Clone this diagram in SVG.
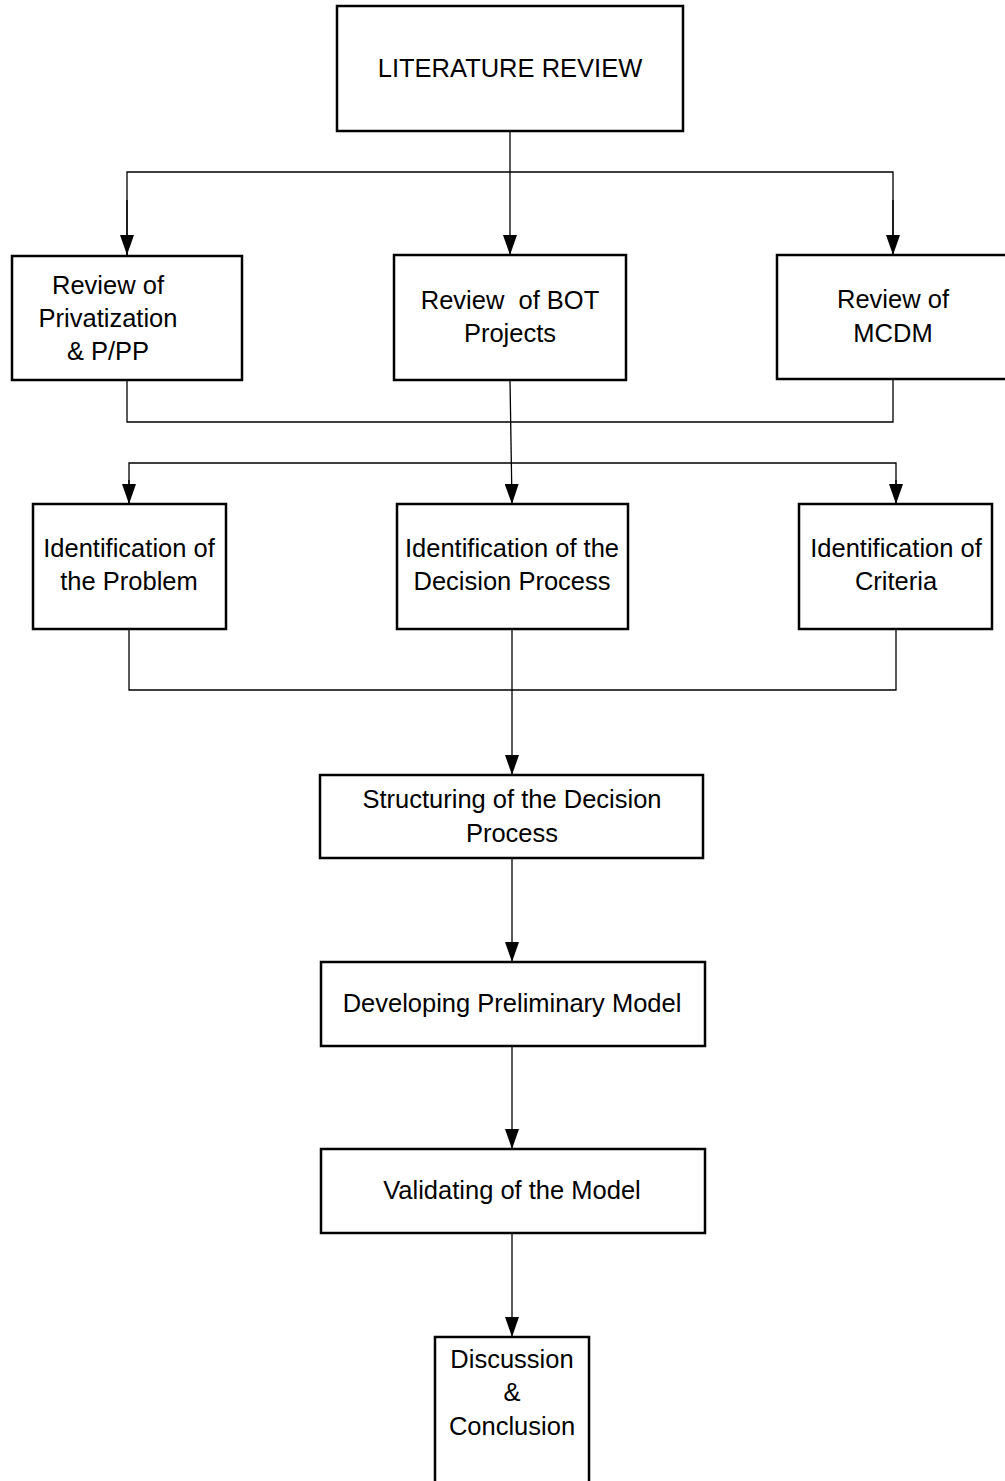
<svg xmlns="http://www.w3.org/2000/svg" width="1005" height="1481" viewBox="0 0 1005 1481">
  <defs>
    <marker id="arrow" markerUnits="userSpaceOnUse" markerWidth="20" markerHeight="14" refX="20" refY="7" orient="auto">
      <path d="M0,0 L20,7 L0,14 z" fill="#000"/>
    </marker>
  </defs>
  <style>
    .box { fill: #fff; stroke: #000; stroke-width: 2.5; }
    .lbl { font-family: "Liberation Sans", Arial, sans-serif; font-size: 25.5px; fill: #000; text-anchor: middle; }
    .wire { fill: none; stroke: #000; stroke-width: 1.3; }
  </style>
  <rect width="1005" height="1481" fill="#fff"/>

  <g id="connectors">
    <!-- literature review fans out to the three reviews -->
    <line class="wire" x1="510" y1="131" x2="510" y2="255" marker-end="url(#arrow)"/>
    <polyline class="wire" points="127,255 127,172 893,172 893,255" />
    <line class="wire" x1="127" y1="200" x2="127" y2="255" marker-end="url(#arrow)"/>
    <line class="wire" x1="893" y1="200" x2="893" y2="255" marker-end="url(#arrow)"/>
    <!-- reviews join -->
    <polyline class="wire" points="127,380 127,422 893,422 893,379"/>
    <!-- down to identification row -->
    <line class="wire" x1="510" y1="380" x2="512" y2="504" marker-end="url(#arrow)"/>
    <polyline class="wire" points="129,504 129,463 896,463 896,504"/>
    <line class="wire" x1="129" y1="480" x2="129" y2="504" marker-end="url(#arrow)"/>
    <line class="wire" x1="896" y1="480" x2="896" y2="504" marker-end="url(#arrow)"/>
    <!-- identification row joins -->
    <polyline class="wire" points="129,629 129,690 896,690 896,629"/>
    <line class="wire" x1="512" y1="629" x2="512" y2="775" marker-end="url(#arrow)"/>
    <!-- main sequence -->
    <line class="wire" x1="512" y1="858" x2="512" y2="962" marker-end="url(#arrow)"/>
    <line class="wire" x1="512" y1="1046" x2="512" y2="1149" marker-end="url(#arrow)"/>
    <line class="wire" x1="512" y1="1233" x2="512" y2="1337" marker-end="url(#arrow)"/>
  </g>

  <g id="literature-review">
    <rect class="box" x="337" y="6" width="346" height="125"/>
    <text class="lbl" x="510" y="77">LITERATURE REVIEW</text>
  </g>

  <g id="review-privatization">
    <rect class="box" x="12" y="256" width="230" height="124"/>
    <text class="lbl" x="108" y="294">Review of</text>
    <text class="lbl" x="108" y="327">Privatization</text>
    <text class="lbl" x="108" y="360">&amp; P/PP</text>
  </g>

  <g id="review-bot">
    <rect class="box" x="394" y="255" width="232" height="125"/>
    <text class="lbl" x="510" y="309" xml:space="preserve">Review  of BOT</text>
    <text class="lbl" x="510" y="342">Projects</text>
  </g>

  <g id="review-mcdm">
    <rect class="box" x="777" y="255" width="232" height="124"/>
    <text class="lbl" x="893" y="308">Review of</text>
    <text class="lbl" x="893" y="342">MCDM</text>
  </g>

  <g id="identification-problem">
    <rect class="box" x="33" y="504" width="193" height="125"/>
    <text class="lbl" x="129" y="557">Identification of</text>
    <text class="lbl" x="129" y="590">the Problem</text>
  </g>

  <g id="identification-process">
    <rect class="box" x="397" y="504" width="231" height="125"/>
    <text class="lbl" x="512" y="557">Identification of the</text>
    <text class="lbl" x="512" y="590">Decision Process</text>
  </g>

  <g id="identification-criteria">
    <rect class="box" x="799" y="504" width="193" height="125"/>
    <text class="lbl" x="896" y="557">Identification of</text>
    <text class="lbl" x="896" y="590">Criteria</text>
  </g>

  <g id="structuring">
    <rect class="box" x="320" y="775" width="383" height="83"/>
    <text class="lbl" x="512" y="808">Structuring of the Decision</text>
    <text class="lbl" x="512" y="842">Process</text>
  </g>

  <g id="developing">
    <rect class="box" x="321" y="962" width="384" height="84"/>
    <text class="lbl" x="512" y="1012">Developing Preliminary Model</text>
  </g>

  <g id="validating">
    <rect class="box" x="321" y="1149" width="384" height="84"/>
    <text class="lbl" x="512" y="1199">Validating of the Model</text>
  </g>

  <g id="discussion">
    <rect class="box" x="435" y="1337" width="154" height="150"/>
    <text class="lbl" x="512" y="1368">Discussion</text>
    <text class="lbl" x="512" y="1401">&amp;</text>
    <text class="lbl" x="512" y="1435">Conclusion</text>
  </g>
</svg>
